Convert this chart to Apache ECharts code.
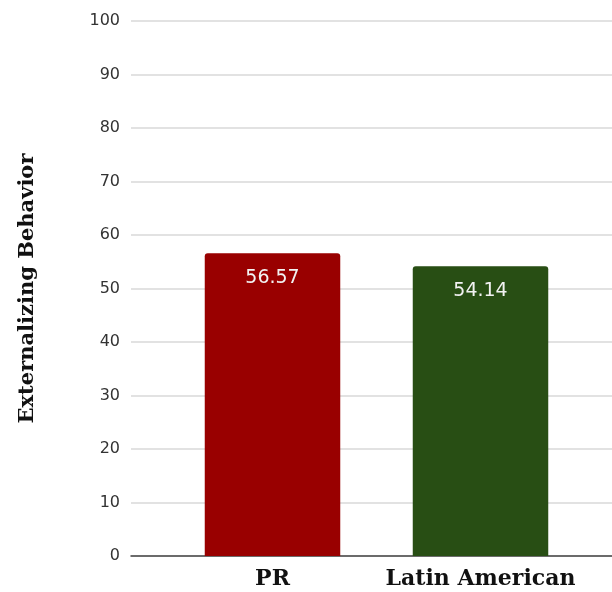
<!DOCTYPE html>
<html>
<head>
<meta charset="utf-8">
<script src="https://cdn.jsdelivr.net/npm/echarts@6/dist/echarts.min.js"></script>
<style>
  html, body { margin: 0; padding: 0; background: #fff; }
  #chart { width: 612px; height: 592px; }
</style>
</head>
<body>
<div id="chart"></div>
<script>
// Mean externalizing behavior score by group
const categories = ['PR', 'Latin American'];
const values = [56.57, 54.14];
const barColors = ['#990000', '#284e14'];
const yAxisTitle = 'Externalizing Behavior';

const chart = echarts.init(document.getElementById('chart'), null, { renderer: 'canvas' });

const option = {
  animation: false,
  backgroundColor: '#ffffff',
  grid: [
    // full-width grid carrying the value scale and gridlines
    { left: 131, right: 0, top: 21, bottom: 36 },
    // narrower grid holding the bars
    { left: 168.5, right: 27.5, top: 21, bottom: 36 }
  ],
  xAxis: [
    {
      gridIndex: 0,
      type: 'category',
      data: [''],
      axisLine: { show: true, lineStyle: { color: '#444', width: 1.5 } },
      axisTick: { show: false },
      axisLabel: { show: false }
    },
    {
      gridIndex: 1,
      type: 'category',
      data: categories,
      axisLine: { show: false },
      axisTick: { show: false },
      axisLabel: {
        interval: 0,
        hideOverlap: false,
        margin: 12,
        fontFamily: 'DejaVu Serif',
        fontWeight: 'bold',
        fontSize: 22,
        color: '#111'
      }
    }
  ],
  yAxis: [
    {
      gridIndex: 0,
      type: 'value',
      min: 0,
      max: 100,
      interval: 10,
      name: yAxisTitle,
      nameLocation: 'middle',
      nameGap: 93,
      nameRotate: 90,
      nameTextStyle: {
        fontFamily: 'DejaVu Serif',
        fontWeight: 'bold',
        fontSize: 21,
        color: '#111'
      },
      axisLine: { show: false },
      axisTick: { show: false },
      axisLabel: {
        margin: 11,
        fontFamily: 'DejaVu Sans',
        fontSize: 16,
        color: '#333'
      },
      splitLine: { show: true, lineStyle: { color: '#d9d9d9', width: 1.5 } }
    },
    {
      gridIndex: 1,
      type: 'value',
      min: 0,
      max: 100,
      interval: 10,
      show: false,
      splitLine: { show: false }
    }
  ],
  series: [
    {
      type: 'bar',
      xAxisIndex: 1,
      yAxisIndex: 1,
      barWidth: 135.5,
      data: values.map((v, i) => ({
        value: v,
        itemStyle: { color: barColors[i], borderRadius: [3, 3, 0, 0] }
      })),
      label: {
        show: true,
        position: 'insideTop',
        distance: 15,
        fontFamily: 'DejaVu Sans',
        fontSize: 19,
        color: '#f2f2f2',
        formatter: p => p.value.toFixed(2)
      },
      z: 3
    }
  ]
};

chart.setOption(option);
</script>
</body>
</html>
